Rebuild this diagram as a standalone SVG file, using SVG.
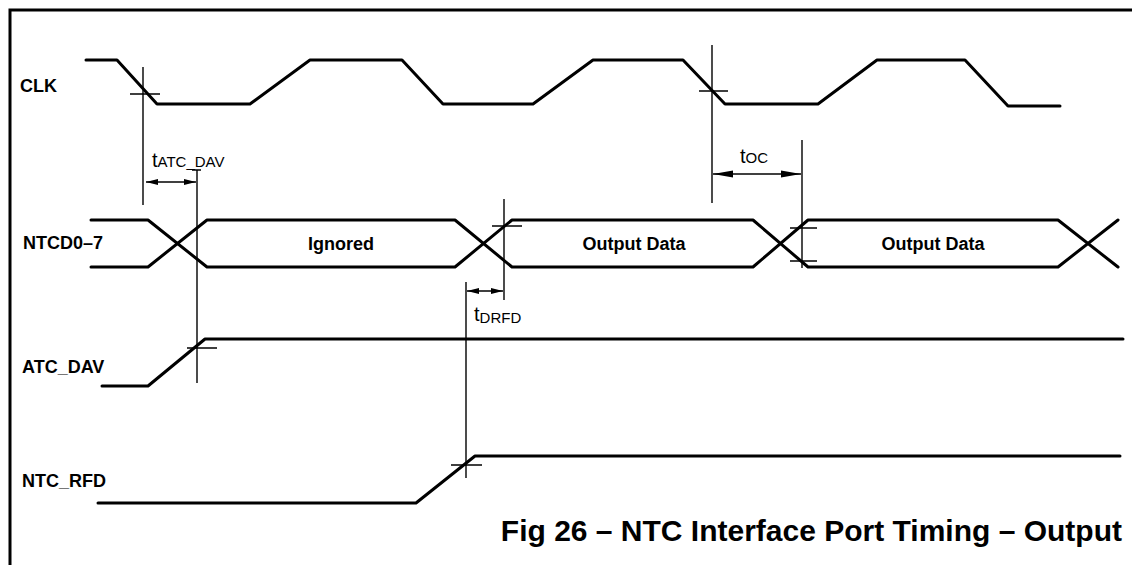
<svg xmlns="http://www.w3.org/2000/svg" width="1132" height="565" viewBox="0 0 1132 565">
<style>
.sig{fill:none;stroke:#000;stroke-width:3;stroke-linejoin:round;stroke-linecap:round}
.ref{fill:none;stroke:#000;stroke-width:1.4}
.frame{fill:none;stroke:#000;stroke-width:3}
.lbl{font-family:"Liberation Sans",Arial,Helvetica,sans-serif;font-weight:bold;font-size:18px;fill:#000}
.dat{font-family:"Liberation Sans",Arial,Helvetica,sans-serif;font-weight:bold;font-size:18px;fill:#000;text-anchor:middle}
.tm{font-family:"Liberation Sans",Arial,Helvetica,sans-serif;font-size:20px;fill:#000}
.sub{font-size:15px}
.cap{font-family:"Liberation Sans",Arial,Helvetica,sans-serif;font-weight:bold;font-size:30px;fill:#000;text-anchor:end}
.dim{fill:none;stroke:#000;stroke-width:1.6}
.dimS{fill:none;stroke:#000;stroke-width:1.6;marker-start:url(#aS);marker-end:url(#aS)}
.dimL{fill:none;stroke:#000;stroke-width:1.6;marker-start:url(#aL);marker-end:url(#aL)}
</style>
<defs>
<marker id="aS" markerUnits="userSpaceOnUse" markerWidth="12" markerHeight="8" refX="12" refY="4" orient="auto-start-reverse"><path d="M0,1 L12,4 L0,7 Z" fill="#000"/></marker>
<marker id="aL" markerUnits="userSpaceOnUse" markerWidth="20" markerHeight="9" refX="20" refY="4.5" orient="auto-start-reverse"><path d="M0,1 L20,4.5 L0,8 Z" fill="#000"/></marker>
</defs>
<rect width="1132" height="565" fill="#fff"/>
<g id="frame">
<path class="frame" d="M10,565 V10 H1132"/>
</g>
<g id="labels">
<text class="lbl" x="20" y="92">CLK</text>
<text class="lbl" x="23" y="249">NTCD0–7</text>
<text class="lbl" x="22" y="373">ATC_DAV</text>
<text class="lbl" x="22" y="487">NTC_RFD</text>
</g>
<g id="clk">
<path class="sig" d="M86,60 H117 L157,104 H250 L310,60 H402 L443,104 H533 L593,60 H683 L725,104 H818 L877,60 H965 L1008,106 H1060"/>
</g>
<g id="ntcd">
<path class="sig" d="M91,220 H148 L207,267 H455 L512,220 H753 L808,267 H1058 L1118,220"/>
<path class="sig" d="M91,267 H148 L207,220 H455 L512,267 H753 L808,220 H1058 L1118,267"/>
<text class="dat" x="341" y="250">Ignored</text>
<text class="dat" x="634" y="250">Output Data</text>
<text class="dat" x="933" y="250">Output Data</text>
</g>
<g id="atc_dav">
<path class="sig" d="M102,386 H148 L205,339 H1123"/>
</g>
<g id="ntc_rfd">
<path class="sig" d="M98,503 H416 L475,456 H1120"/>
</g>
<g id="connectors">
<!-- CLK reference crosshairs -->
<path class="ref" d="M143,67 V205 M130,94 H160"/>
<path class="ref" d="M712,45 V203 M699,91 H728"/>
<!-- ATC_DAV reference -->
<path class="ref" d="M197,170 V383 M192,170 H201 M187,348 H217"/>
<!-- NTCD reference lines -->
<path class="ref" d="M504,199 V300 M492,226 H522"/>
<path class="ref" d="M802,140 V268 M790,228 H817 M790,261 H817"/>
<!-- NTC_RFD reference -->
<path class="ref" d="M466,282 V478 M451,465 H482"/>
<!-- dimension arrows -->
<path class="dimS" d="M146,182 H196"/>
<path class="dimL" d="M713,174 H801"/>
<path class="dimS" d="M467,291 H503"/>
</g>
<g id="timing-labels">
<text class="tm" x="152" y="167">t<tspan class="sub">ATC_DAV</tspan></text>
<text class="tm" x="740" y="163">t<tspan class="sub">OC</tspan></text>
<text class="tm" x="474" y="321">t<tspan class="sub" dy="2">DRFD</tspan></text>
</g>
<g id="caption">
<text class="cap" x="1122" y="541">Fig 26 – NTC Interface Port Timing – Output</text>
</g>
</svg>
